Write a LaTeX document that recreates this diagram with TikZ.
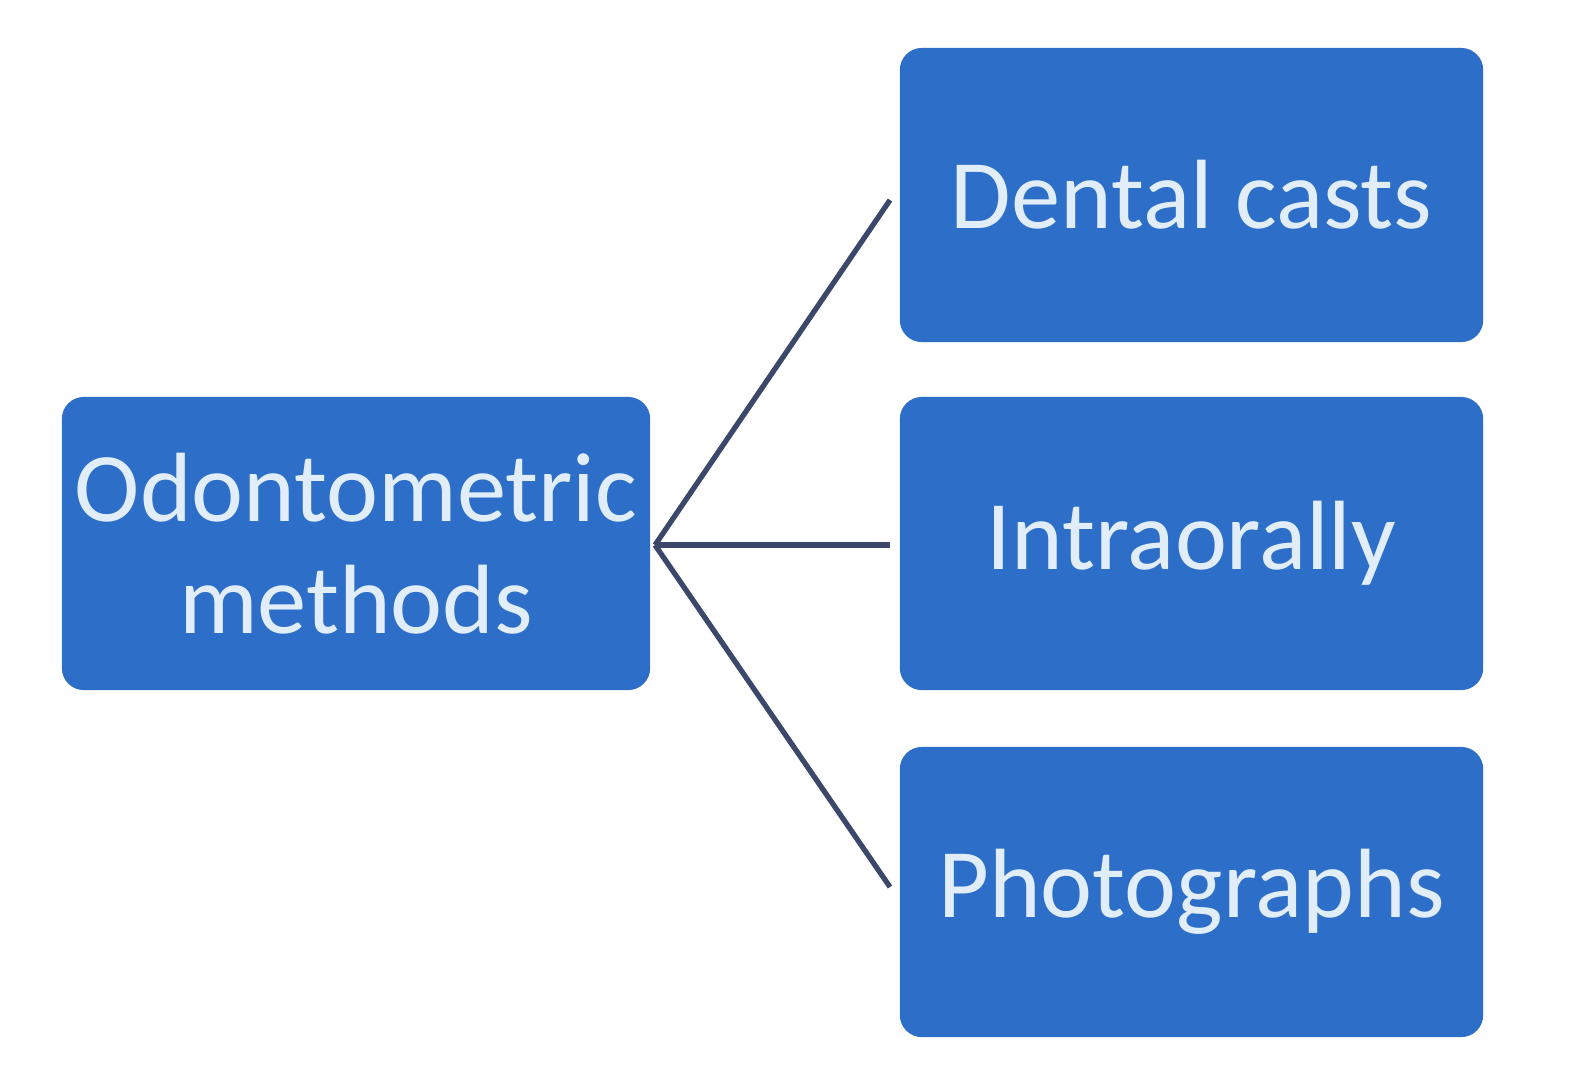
\documentclass[tikz,border=0pt]{standalone}
\usepackage{fontspec}
\setmainfont{Carlito}
\definecolor{boxblue}{RGB}{44,110,200}
\definecolor{txt}{RGB}{225,238,250}
\definecolor{ln}{RGB}{60,72,105}
\begin{document}
\begin{tikzpicture}[x=0.01cm,y=-0.01cm,
  box/.style={fill=boxblue,draw=none,rounded corners=0.22cm,text=txt,align=center,font=\fontsize{28}{32}\selectfont},
  conn/.style={draw=ln,line width=1.5pt}]
\useasboundingbox[fill=white] (0,0) rectangle (1586,1081);
\node[box,minimum width=5.88cm,minimum height=2.93cm] (om) at (356,543.5) {Odontometric\\methods};
\node[box,minimum width=5.83cm,minimum height=2.94cm] (dc) at (1191.5,195) {Dental casts};
\node[box,minimum width=5.83cm,minimum height=2.93cm] (io) at (1191.5,543.5) {Intraorally};
\node[box,minimum width=5.83cm,minimum height=2.90cm] (ph) at (1191.5,892) {Photographs};
\coordinate (s) at (655,545);
\coordinate (e1) at (890,200);
\coordinate (e2) at (890,545);
\coordinate (e3) at (890,887);
\draw[conn] (s) -- (e1);
\draw[conn] (s) -- (e2);
\draw[conn] (s) -- (e3);
\end{tikzpicture}
\end{document}
